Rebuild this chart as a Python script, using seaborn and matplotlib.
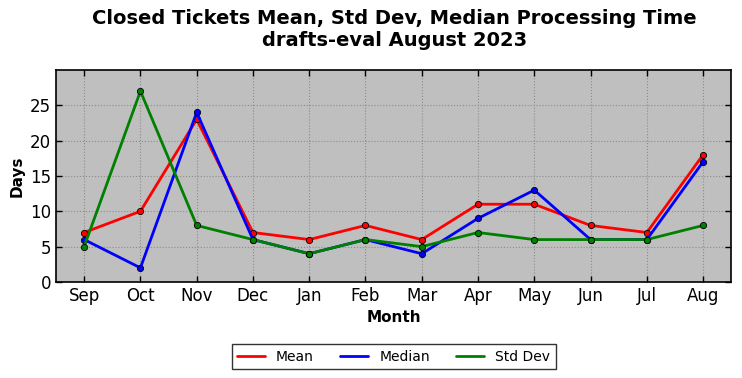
import matplotlib
matplotlib.use("Agg")
import matplotlib.pyplot as plt
import seaborn as sns
import pandas as pd

months = ["Sep", "Oct", "Nov", "Dec", "Jan", "Feb", "Mar", "Apr", "May", "Jun", "Jul", "Aug"]
mean_vals = [7, 10, 23, 7, 6, 8, 6, 11, 11, 8, 7, 18]
median_vals = [6, 2, 24, 6, 4, 6, 4, 9, 13, 6, 6, 17]
std_vals = [5, 27, 8, 6, 4, 6, 5, 7, 6, 6, 6, 8]
series_names = ["Mean", "Median", "Std Dev"]
colors = ["#ff0000", "#0000ff", "#008000"]

rows = []
for name, vals in zip(series_names, [mean_vals, median_vals, std_vals]):
    for i, (m, v) in enumerate(zip(months, vals)):
        rows.append({"idx": i, "Month": m, "Days": v, "Series": name})
df = pd.DataFrame(rows)

sns.set_style("ticks")
plt.rcParams['font.family'] = ['DejaVu Sans']
plt.rcParams.update({"text.color": "black", "axes.labelcolor": "black",
                     "xtick.color": "black", "ytick.color": "black"})

fig = plt.figure(figsize=(7.42, 3.78), dpi=100)
ax = fig.add_axes([0.0755, 0.254, 0.91, 0.561])
ax.set_facecolor("#bfbfbf")

sns.lineplot(data=df, x="idx", y="Days", hue="Series", hue_order=series_names,
             palette=colors, linewidth=2, marker="o", markersize=4.5,
             markeredgecolor="black", markeredgewidth=0.6, ax=ax, legend=True)

ax.set_xlim(-0.5, 11.5)
ax.set_ylim(0, 30)
ax.set_xticks(range(len(months)))
ax.set_xticklabels(months, fontsize=12)
ax.set_yticks([0, 5, 10, 15, 20, 25])
ax.tick_params(axis="y", labelsize=12)
ax.tick_params(direction="in", length=4, top=True, right=True, width=1, colors="black")
ax.grid(True, linestyle=":", color="#8c8c8c", linewidth=0.8)
for s in ax.spines.values():
    s.set_linewidth(1.2)
    s.set_color("black")

ax.set_xlabel("Month", fontsize=11, fontweight="bold", color="black")
ax.set_ylabel("Days", fontsize=11, fontweight="bold", color="black")
fig.text(0.532, 0.922, "Closed Tickets Mean, Std Dev, Median Processing Time\ndrafts-eval August 2023",
         ha="center", va="center", fontsize=14, fontweight="bold", color="black",
         multialignment="center")

handles, labels = ax.get_legend_handles_labels()
for h in handles:
    h.set_marker("")
leg = ax.legend(handles, labels, loc="upper center", bbox_to_anchor=(0.5, -0.26), ncol=3,
                fontsize=10, frameon=True, fancybox=False, edgecolor="black",
                handlelength=2.0, columnspacing=1.9, borderpad=0.4)
leg.get_frame().set_linewidth(1.0)
for t in leg.get_texts():
    t.set_color("black")

fig.savefig("out.png", dpi=100)
